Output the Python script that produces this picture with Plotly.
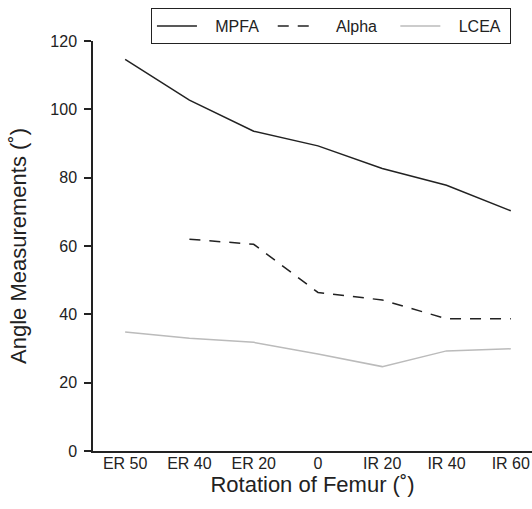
import plotly.graph_objects as go

categories = ["ER 50", "ER 40", "ER 20", "0", "IR 20", "IR 40", "IR 60"]
mpfa = [114.6, 102.7, 93.6, 89.3, 82.7, 77.8, 70.3]
alpha = [None, 62.0, 60.5, 46.4, 44.2, 38.7, 38.7]
lcea = [34.8, 33.0, 31.8, 28.4, 24.7, 29.3, 29.9]
y_ticks = [0, 20, 40, 60, 80, 100, 120]

x = list(range(len(categories)))
font = "Liberation Sans, Arial, sans-serif"
sp = "\u00a0"

fig = go.Figure()
fig.add_trace(go.Scatter(x=x, y=mpfa, mode="lines", name=sp * 3 + "MPFA" + sp * 2,
                         line=dict(color="#222222", width=1.5)))
fig.add_trace(go.Scatter(x=x, y=alpha, mode="lines", name=sp * 3 + "Alpha" + sp * 3,
                         line=dict(color="#222222", width=1.5, dash="11px,9px")))
fig.add_trace(go.Scatter(x=x, y=lcea, mode="lines", name=sp * 3 + "LCEA" + sp,
                         line=dict(color="#bbbbbb", width=1.5)))

fig.update_layout(
    width=532, height=509,
    margin=dict(l=93, r=0, t=41, b=58),
    paper_bgcolor="white", plot_bgcolor="white",
    font=dict(family=font, color="#222222", size=16),
    showlegend=True,
    legend=dict(orientation="h", x=0.132, y=1.08, xanchor="left", yanchor="top",
                bordercolor="#222222", borderwidth=1, bgcolor="white",
                font=dict(size=16, color="#222222"), itemwidth=40,
                tracegroupgap=0),
    xaxis=dict(range=[-0.5, 6.33], tickmode="array", tickvals=x, ticktext=categories,
               showgrid=False, zeroline=False, showline=True, linecolor="#222222",
               linewidth=1.5, ticks="", tickfont=dict(size=16), ticklabelstandoff=-3,
               title=dict(text="Rotation of Femur (˚)", font=dict(size=22), standoff=6)),
    yaxis=dict(range=[0, 120], tickmode="array", tickvals=y_ticks,
               showgrid=False, zeroline=False, showline=True, linecolor="#222222",
               linewidth=1.5, ticks="outside", ticklen=7, tickwidth=1.5, tickcolor="#222222",
               tickfont=dict(size=16), ticklabelstandoff=4,
               title=dict(text="Angle Measurements (˚)", font=dict(size=22), standoff=18)),
)

fig.write_html("out.html", config={"displayModeBar": False},
               post_script="document.body.style.margin='0';")
